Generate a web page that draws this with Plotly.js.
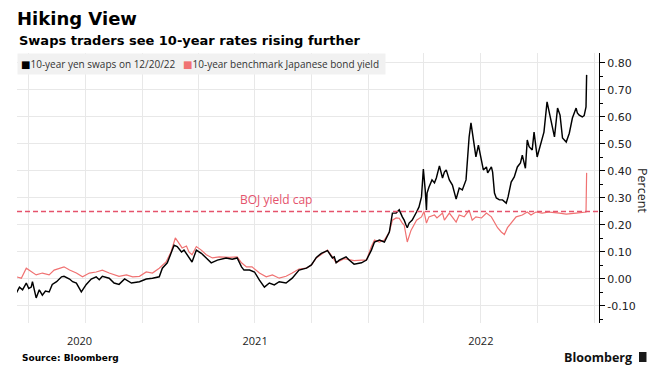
<!DOCTYPE html>
<html>
<head>
<meta charset="utf-8">
<script src="https://cdn.plot.ly/plotly-3.0.1.min.js"></script>
<style>
  html, body { margin: 0; padding: 0; background: #fff; }
  #chart { width: 664px; height: 384px; }
</style>
</head>
<body>
<div id="chart"></div>
<script>
// ---- Data ----
const swapDates = [
  "2020-06-11","2020-06-16","2020-06-21","2020-06-27","2020-07-01","2020-07-05","2020-07-07","2020-07-10","2020-07-13","2020-07-18",
  "2020-07-23","2020-07-28","2020-08-03","2020-08-08","2020-08-15","2020-08-23","2020-08-27","2020-09-05","2020-09-10","2020-09-16",
  "2020-09-24","2020-10-02","2020-10-10","2020-10-18","2020-10-23","2020-10-28","2020-11-08","2020-11-16","2020-11-24","2020-12-03",
  "2020-12-14","2020-12-27","2021-01-07","2021-01-17","2021-01-28","2021-02-02","2021-02-10","2021-02-16","2021-02-21","2021-02-26",
  "2021-03-05","2021-03-09","2021-03-14","2021-03-18","2021-03-22","2021-03-29","2021-04-06","2021-04-14","2021-04-22","2021-05-02",
  "2021-05-16","2021-05-26","2021-06-03","2021-06-10","2021-06-14","2021-06-23","2021-07-01","2021-07-09","2021-07-17","2021-07-25",
  "2021-08-02","2021-08-10","2021-08-21","2021-08-31","2021-09-11","2021-09-23","2021-10-01","2021-10-09","2021-10-17","2021-10-27",
  "2021-11-04","2021-11-07","2021-11-10","2021-11-15","2021-11-26","2021-12-01","2021-12-09","2021-12-21","2021-12-29","2022-01-06",
  "2022-01-11","2022-01-19","2022-01-27","2022-02-04","2022-02-09","2022-02-15","2022-02-20","2022-02-25","2022-02-28","2022-03-03",
  "2022-03-05","2022-03-08","2022-03-13","2022-03-20","2022-03-24","2022-03-28","2022-03-31","2022-04-03","2022-04-05","2022-04-06",
  "2022-04-09","2022-04-14","2022-04-18","2022-04-21","2022-04-26","2022-05-01","2022-05-04","2022-05-07","2022-05-12","2022-05-17",
  "2022-05-23","2022-05-28","2022-06-02","2022-06-08","2022-06-10","2022-06-13","2022-06-16","2022-06-18","2022-06-21","2022-06-24",
  "2022-06-28","2022-07-03","2022-07-06","2022-07-11","2022-07-13","2022-07-19","2022-07-21","2022-07-24","2022-07-27","2022-08-01",
  "2022-08-06","2022-08-12","2022-08-15","2022-08-20","2022-08-25","2022-08-30","2022-09-04","2022-09-07","2022-09-12","2022-09-15",
  "2022-09-18","2022-09-23","2022-09-26","2022-10-01","2022-10-08","2022-10-12","2022-10-17","2022-10-24","2022-10-29","2022-11-03",
  "2022-11-07","2022-11-11","2022-11-17","2022-11-22","2022-11-27","2022-12-03","2022-12-05","2022-12-08","2022-12-13","2022-12-16",
  "2022-12-19","2022-12-20"
];
const swapValues = [
  -0.052,-0.030,-0.040,-0.015,-0.035,-0.030,-0.010,-0.045,-0.070,-0.040,
  -0.060,-0.045,-0.048,-0.020,-0.010,0.008,0.010,0.000,-0.010,-0.015,
  -0.048,-0.020,0.000,0.008,-0.003,0.010,0.003,-0.015,-0.020,0.000,
  -0.015,-0.010,0.000,0.003,0.008,0.040,0.060,0.095,0.125,0.120,
  0.100,0.107,0.090,0.080,0.063,0.107,0.095,0.078,0.060,0.070,
  0.078,0.073,0.078,0.045,0.033,0.033,0.026,-0.004,-0.030,-0.015,
  -0.022,-0.010,-0.015,0.003,0.033,0.040,0.052,0.080,0.095,0.105,
  0.078,0.082,0.060,0.070,0.082,0.070,0.055,0.060,0.070,0.107,
  0.137,0.144,0.137,0.174,0.244,0.244,0.256,0.230,0.218,0.200,
  0.190,0.207,0.218,0.248,0.267,0.304,0.407,0.330,0.256,0.318,
  0.340,0.367,0.356,0.374,0.419,0.374,0.396,0.404,0.367,0.348,
  0.296,0.337,0.330,0.367,0.430,0.526,0.578,0.541,0.489,0.452,
  0.496,0.430,0.404,0.415,0.393,0.415,0.396,0.318,0.300,0.293,
  0.293,0.281,0.304,0.359,0.378,0.415,0.430,0.459,0.410,0.515,
  0.490,0.478,0.544,0.452,0.515,0.544,0.656,0.578,0.526,0.633,
  0.607,0.522,0.507,0.540,0.596,0.633,0.615,0.607,0.600,0.605,
  0.637,0.756
];

const jgbDates = [
  "2020-06-11","2020-06-19","2020-06-27","2020-07-05","2020-07-13","2020-07-23","2020-08-03","2020-08-11","2020-08-23","2020-08-27",
  "2020-09-05","2020-09-16","2020-09-26","2020-10-07","2020-10-18","2020-10-28","2020-11-08","2020-11-16","2020-11-24","2020-12-06",
  "2020-12-16","2020-12-27","2021-01-07","2021-01-17","2021-01-28","2021-02-08","2021-02-16","2021-02-23","2021-03-01","2021-03-06",
  "2021-03-13","2021-03-17","2021-03-22","2021-03-29","2021-04-06","2021-04-14","2021-04-24","2021-05-05","2021-05-21","2021-06-03",
  "2021-06-10","2021-06-18","2021-06-27","2021-07-09","2021-07-20","2021-07-30","2021-08-10","2021-08-21","2021-08-31","2021-09-11",
  "2021-09-23","2021-10-01","2021-10-09","2021-10-17","2021-10-27","2021-11-04","2021-11-10","2021-11-23","2021-12-09","2021-12-21",
  "2021-12-29","2022-01-06","2022-01-11","2022-01-19","2022-01-27","2022-02-04","2022-02-09","2022-02-15","2022-02-20","2022-02-25",
  "2022-02-28","2022-03-05","2022-03-11","2022-03-20","2022-03-28","2022-04-01","2022-04-05","2022-04-09","2022-04-18","2022-04-22",
  "2022-05-01","2022-05-04","2022-05-12","2022-05-23","2022-05-28","2022-06-05","2022-06-13","2022-06-18","2022-06-24","2022-07-03",
  "2022-07-11","2022-07-19","2022-07-24","2022-07-29","2022-08-04","2022-08-09","2022-08-14","2022-08-20","2022-08-28","2022-09-07",
  "2022-09-15","2022-09-21","2022-09-29","2022-10-09","2022-10-21","2022-11-06","2022-11-17","2022-12-03","2022-12-16","2022-12-19",
  "2022-12-20"
];
const jgbValues = [
  0.008,0.003,0.040,0.026,0.015,0.022,0.015,0.033,0.040,0.045,
  0.033,0.022,0.008,0.022,0.026,0.033,0.022,0.015,0.010,0.015,
  0.008,0.010,0.026,0.022,0.040,0.063,0.100,0.152,0.133,0.115,
  0.122,0.100,0.090,0.120,0.107,0.090,0.078,0.082,0.080,0.082,
  0.060,0.045,0.045,0.022,0.008,0.015,0.003,0.010,0.022,0.037,
  0.040,0.052,0.078,0.090,0.107,0.082,0.060,0.075,0.068,0.070,
  0.070,0.120,0.144,0.137,0.144,0.174,0.218,0.226,0.225,0.207,
  0.200,0.137,0.180,0.218,0.230,0.250,0.207,0.230,0.237,0.226,
  0.244,0.218,0.244,0.211,0.237,0.230,0.255,0.218,0.230,0.226,
  0.244,0.230,0.211,0.190,0.174,0.165,0.190,0.207,0.230,0.237,
  0.248,0.237,0.248,0.244,0.248,0.244,0.240,0.244,0.248,0.248,
  0.393
];

const capLevel = 0.25;
const capLabel = "BOJ yield cap";
const capLabelDate = "2021-08-05";

const seriesNames = ["10-year yen swaps on 12/20/22", "10-year benchmark Japanese bond yield"];
const yearTickVals = ["2020-09-21", "2021-07-02", "2022-07-02"];
const yearTickText = ["2020", "2021", "2022"];
const yTickVals = [-0.10, 0.00, 0.10, 0.20, 0.30, 0.40, 0.50, 0.60, 0.70, 0.80];
const yTickText = ["-0.10", "0.00", "0.10", "0.20", "0.30", "0.40", "0.50", "0.60", "0.70", "0.80"];
const xRange = ["2020-06-12", "2023-01-09"];
const yRange = [-0.163, 0.837];

// ---- Styles ----
const BLACK = "#000000";
const RED = "#f07272";
const CAP = "#e5536c";
const GRID = "#e8e8e8";
const TXT = "#222222";
const SANS = "Open Sans, DejaVu Sans, sans-serif";
const BOLD = "DejaVu Sans, sans-serif";

const traces = [
  {
    x: jgbDates, y: jgbValues, type: "scatter", mode: "lines",
    name: seriesNames[1], line: { color: RED, width: 1.2 }, showlegend: false, hoverinfo: "skip"
  },
  {
    x: swapDates, y: swapValues, type: "scatter", mode: "lines",
    name: seriesNames[0], line: { color: BLACK, width: 1.45 }, showlegend: false, hoverinfo: "skip"
  }
];

const legendText =
  '<span style="color:' + BLACK + '">■</span>' + seriesNames[0] +
  '   <span style="color:' + RED + '">■</span>' + seriesNames[1] + ' ';

const layout = {
  width: 664, height: 384,
  margin: { l: 17, r: 65, t: 53, b: 61 },
  paper_bgcolor: "#ffffff", plot_bgcolor: "#ffffff",
  showlegend: false,
  title: {
    text: "<b>Hiking View</b>",
    font: { family: BOLD, size: 18, color: "#000" },
    x: 17 / 664, xanchor: "left", xref: "container",
    y: 1 - 12 / 384, yanchor: "top", yref: "container"
  },
  xaxis: {
    type: "date", range: xRange,
    tickmode: "array", tickvals: yearTickVals, ticktext: yearTickText,
    ticks: "", showgrid: false, zeroline: false, showline: false,
    tickfont: { family: SANS, size: 11, color: TXT },
    ticklabelstandoff: 10,
    minor: { tick0: "2020-07-01", dtick: "M3", showgrid: true, gridcolor: GRID, gridwidth: 1, ticks: "" }
  },
  yaxis: {
    side: "right", range: yRange,
    tickmode: "array", tickvals: yTickVals, ticktext: yTickText,
    ticks: "outside", ticklen: 5, tickwidth: 1, tickcolor: "#000",
    showline: true, linecolor: "#000", linewidth: 1,
    showgrid: true, gridcolor: GRID, gridwidth: 1, zeroline: false,
    tickfont: { family: "DejaVu Sans, sans-serif", size: 11, color: TXT },
    minor: { tick0: 0, dtick: 0.05, ticks: "outside", ticklen: 3, tickcolor: "#000", showgrid: false }
  },
  shapes: [
    { type: "line", xref: "paper", x0: 0, x1: 1, yref: "y", y0: capLevel, y1: capLevel,
      line: { color: CAP, width: 1.3, dash: "5px,3px" } },
    { type: "rect", xref: "paper", yref: "paper", x0: 1.0687, x1: 1.0816, y0: -0.1444, y1: -0.1074,
      fillcolor: "#1a1a1a", line: { width: 0 } }
  ],
  annotations: [
    { text: "<b>Swaps traders see 10-year rates rising further</b>", xref: "paper", yref: "paper",
      x: 0, y: 1 + 12 / 270, xanchor: "left", yanchor: "middle", showarrow: false,
      font: { family: BOLD, size: 13, color: "#000" } },
    { text: legendText, xref: "paper", yref: "paper", x: 0, y: 1, xanchor: "left", yanchor: "top",
      showarrow: false, bgcolor: "#f1f1f1", borderpad: 3, align: "left",
      font: { family: SANS, size: 10, color: "#333" } },
    { text: capLabel, xref: "x", yref: "y", x: capLabelDate, y: capLevel, xanchor: "center", yanchor: "bottom",
      yshift: 1, showarrow: false, font: { family: SANS, size: 12, color: CAP } },
    { text: "Percent", xref: "paper", yref: "paper", x: (643 - 17) / 582, y: (323 - 190) / 270,
      xanchor: "center", yanchor: "middle", textangle: 90, showarrow: false,
      font: { family: SANS, size: 12.5, color: TXT } },
    { text: "<b>Source: Bloomberg</b>", xref: "paper", yref: "paper", x: 3 / 582, y: (323 - 358) / 270,
      xanchor: "left", yanchor: "middle", showarrow: false, font: { family: BOLD, size: 9, color: "#000" } },
    { text: "<b>Bloomberg</b>", xref: "paper", yref: "paper", x: (634 - 17) / 582, y: (323 - 357) / 270,
      xanchor: "right", yanchor: "middle", showarrow: false, font: { family: SANS, size: 12.5, color: "#111" } }
  ]
};

Plotly.newPlot("chart", traces, layout, { staticPlot: true, displayModeBar: false });
</script>
</body>
</html>
